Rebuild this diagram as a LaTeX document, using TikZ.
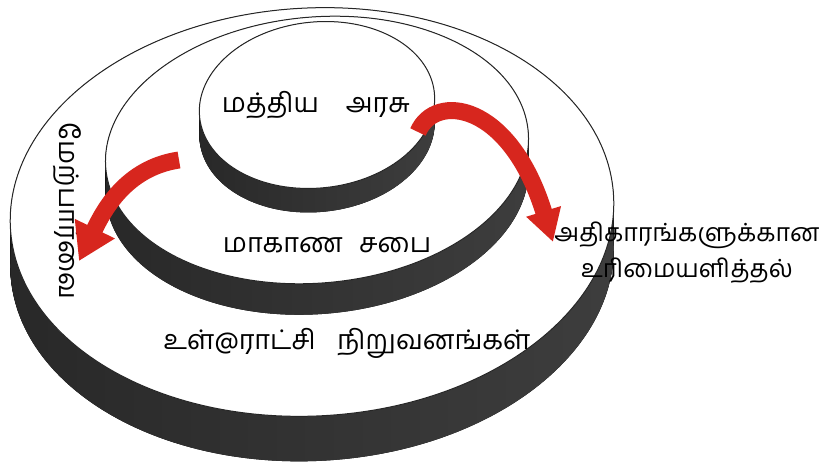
\documentclass[tikz,border=0pt]{standalone}
\usepackage{fontspec}
\usetikzlibrary{arrows.meta}
\newfontfamily\tamilfont[Script=Tamil]{Hind Madurai}
\definecolor{arrowred}{HTML}{D7261E}
\definecolor{sidegrey}{HTML}{282828}

\begin{document}
\begin{tikzpicture}[
  x=1pt, y=1pt,
  face/.style={fill=white, draw=black!85, line width=1pt},
  side/.style={left color=sidegrey, middle color=sidegrey, right color=sidegrey!90!white},
  tamiltext/.style={font=\tamilfont\fontsize{27}{36}\selectfont, align=center},
  flow/.style={arrowred, line width=17pt, -{Triangle[width=42pt, length=36pt]}}
]
\useasboundingbox (0,0) rectangle (823,462);

% discs, bottom one first
\foreach \cx/\cy/\rx/\ry/\rot/\dep in {312/250/302/204/3/45, 317/312/212/133/5/31, 317/357/118/83/6/24}{
  \foreach \k in {0,...,\dep}
    \fill[side] (\cx,\cy-\k) ellipse [x radius=\rx, y radius=\ry, rotate=\rot];
  \draw[face] (\cx,\cy) ellipse [x radius=\rx, y radius=\ry, rotate=\rot];
}

\node[tamiltext] (central) at (316,357) {மத்திய\quad அரசு};
\node[tamiltext] (provincial) at (327,217) {மாகாண\hspace{0.6em}சபை};
\node[tamiltext] (local) at (347,119) {உள்@ராட்சி\hspace{0.8em}நிறுவனங்கள்};
\node[tamiltext, rotate=-90] (supervision) at (67,251) {மேற்பார்வை};
\node[tamiltext, font=\tamilfont\fontsize{25}{36}\selectfont] (devolution) at (687,209) {அதிகாரங்களுக்கான\\உரிமையளித்தல்};

\coordinate (supTail) at (179,302);
\coordinate (supTip) at (79,201);
\coordinate (devTail) at (418,330);
\coordinate (devTip) at (553,220);

\draw[flow] (supTail) .. controls (125,294) and (103,250) .. (supTip);
\draw[flow, -{Triangle[width=34pt, length=32pt]}] (devTail) .. controls (435,370) and (510,360) .. (devTip);
\end{tikzpicture}
\end{document}
